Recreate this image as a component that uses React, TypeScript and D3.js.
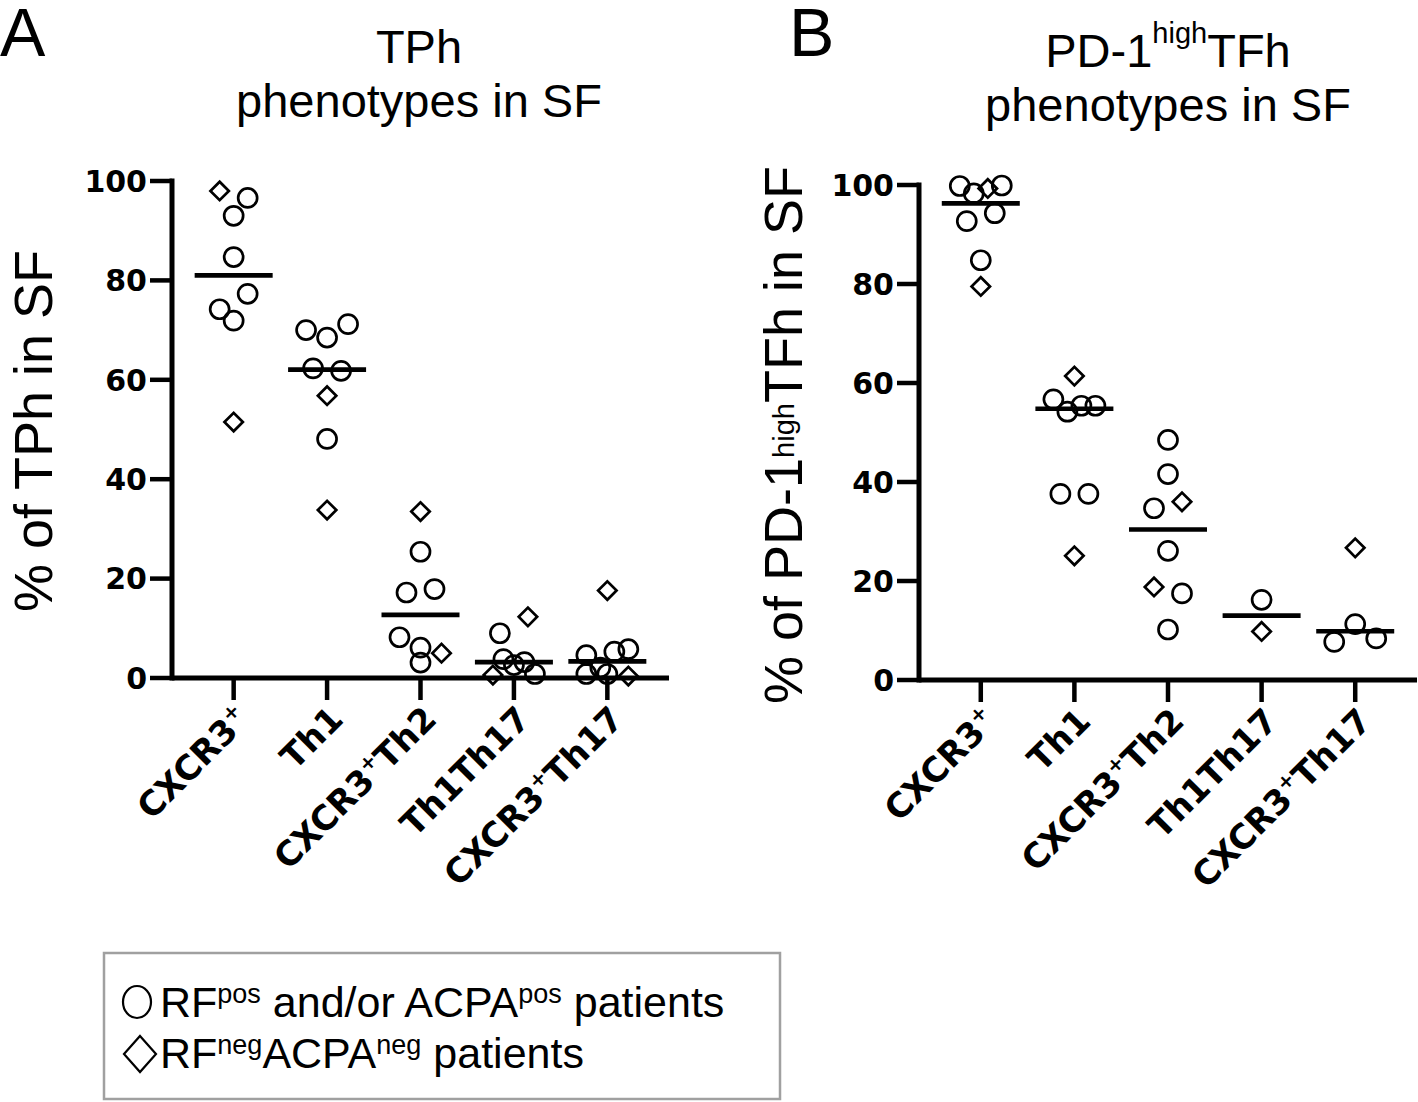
import React from "react";
import * as d3 from "d3";

// ---------- data ----------
const categories = ["CXCR3+", "Th1", "CXCR3+Th2", "Th1Th17", "CXCR3+Th17"];
const yTicks = [0, 20, 40, 60, 80, 100];

// Panel A: % of TPh in SF (one inner array per category)
const tphValues = [
  [98.0, 96.6, 93.0, 84.7, 74.2, 77.3, 71.9, 51.5],
  [70.0, 68.5, 71.2, 62.3, 61.8, 56.8, 48.1, 33.8],
  [33.5, 25.4, 17.2, 17.9, 8.2, 6.1, 5.0, 3.1],
  [9.0, 12.3, 0.6, 3.8, 2.6, 3.2, 0.8],
  [17.6, 4.6, 2.1, 5.3, 5.8, 0.8, 0.8, 0.4],
];
// "pos" = RFpos and/or ACPApos (circle), "neg" = RFnegACPAneg (diamond)
const tphKinds = [
  ["neg", "pos", "pos", "pos", "pos", "pos", "pos", "neg"],
  ["pos", "pos", "pos", "pos", "pos", "neg", "pos", "neg"],
  ["neg", "pos", "pos", "pos", "pos", "pos", "neg", "pos"],
  ["pos", "neg", "neg", "pos", "pos", "pos", "pos"],
  ["neg", "pos", "pos", "pos", "pos", "pos", "pos", "neg"],
];

// Panel B: % of PD-1high TFh in SF
const tfhValues = [
  [99.8, 98.3, 99.3, 99.9, 92.7, 94.3, 84.8, 79.5],
  [61.4, 56.7, 54.2, 55.4, 55.4, 37.6, 37.6, 25.1],
  [48.5, 41.6, 34.7, 36.0, 26.1, 18.8, 17.5, 10.2],
  [16.2, 9.8],
  [26.7, 7.7, 11.3, 8.4],
];
const tfhKinds = [
  ["pos", "pos", "neg", "pos", "pos", "pos", "pos", "neg"],
  ["neg", "pos", "pos", "pos", "pos", "pos", "pos", "neg"],
  ["pos", "pos", "pos", "neg", "pos", "neg", "pos", "pos"],
  ["pos", "neg"],
  ["neg", "pos", "pos", "pos"],
];

// ---------- styling ----------
const SANS = "'Liberation Sans', Arial, Helvetica, sans-serif";
const BOLD = "'DejaVu Sans', 'Liberation Sans', Arial, sans-serif";
const AXIS_W = 5;
const TICK_LEN = 22;
const MARK_R = 9.5;
const ROW_GAP = 21;

function swarmOffsets(ys: number[]): number[] {
  const order = ys.map((_, i) => i).sort((a, b) => ys[a] - ys[b]);
  const rows: number[][] = [];
  let cur: number[] = [];
  let top = -Infinity;
  order.forEach((i) => {
    if (cur.length === 0 || ys[i] - top >= ROW_GAP) {
      if (cur.length) rows.push(cur);
      cur = [i];
      top = ys[i];
    } else cur.push(i);
  });
  if (cur.length) rows.push(cur);
  const off = ys.map(() => 0);
  rows.forEach((row) => {
    const r = [...row].sort((a, b) => a - b);
    const n = r.length;
    if (n === 1) return;
    const w = n === 2 ? 14 : 21;
    r.forEach((idx, k) => {
      off[idx] = -w + (2 * w * k) / (n - 1);
    });
  });
  return off;
}

function XLabel({ label }: { label: string }) {
  const parts = label.split("+");
  if (parts.length === 1) return <>{label}</>;
  return (
    <>
      {parts[0]}
      <tspan fontSize={20} dy={-14}>+</tspan>
      {parts[1] ? <tspan dy={14}>{parts[1]}</tspan> : null}
    </>
  );
}

const diamond = d3.symbol().type(d3.symbolSquare).size(170)();

function Panel(props: {
  x0: number;
  x1: number;
  yTop: number;
  yBottom: number;
  values: number[][];
  kinds: string[][];
}) {
  const { x0, x1, yTop, yBottom, values, kinds } = props;
  const x = d3.scalePoint<string>().domain(categories).range([x0, x1]).padding(0.66);
  const y = d3.scaleLinear().domain([0, 100]).range([yBottom, yTop]);

  return (
    <g>
      {/* points */}
      {categories.map((c, ci) => {
        const vals = values[ci];
        const ys = vals.map((v) => y(v));
        const offs = swarmOffsets(ys);
        const cx = x(c) as number;
        const med = d3.median(vals) as number;
        return (
          <g key={c}>
            {vals.map((v, i) =>
              kinds[ci][i] === "pos" ? (
                <circle
                  key={i}
                  cx={cx + offs[i]}
                  cy={y(v)}
                  r={MARK_R}
                  fill="none"
                  stroke="#000"
                  strokeWidth={2.7}
                />
              ) : (
                <path
                  key={i}
                  d={diamond as string}
                  transform={`translate(${cx + offs[i]},${y(v)}) rotate(45)`}
                  fill="none"
                  stroke="#000"
                  strokeWidth={2.7}
                />
              )
            )}
            <line
              x1={cx - 39}
              x2={cx + 39}
              y1={y(med)}
              y2={y(med)}
              stroke="#000"
              strokeWidth={4.7}
            />
          </g>
        );
      })}
      {/* y axis */}
      <line x1={x0} x2={x0} y1={y(100) - AXIS_W / 2} y2={y(0) + AXIS_W / 2} stroke="#000" strokeWidth={AXIS_W} />
      {yTicks.map((t) => (
        <g key={t}>
          <line x1={x0 - TICK_LEN} x2={x0} y1={y(t)} y2={y(t)} stroke="#000" strokeWidth={AXIS_W - 0.5} />
          <text
            x={x0 - TICK_LEN - 3}
            y={y(t)}
            dy="0.36em"
            textAnchor="end"
            fontFamily={BOLD}
            fontWeight="bold"
            fontSize={30}
          >
            {t}
          </text>
        </g>
      ))}
      {/* x axis */}
      <line x1={x0} x2={x1} y1={y(0)} y2={y(0)} stroke="#000" strokeWidth={AXIS_W} />
      {categories.map((c) => {
        const cx = x(c) as number;
        return (
          <g key={c}>
            <line x1={cx} x2={cx} y1={y(0)} y2={y(0) + TICK_LEN} stroke="#000" strokeWidth={AXIS_W - 0.5} />
            <text
              transform={`translate(${cx + 1},${y(0) + 26}) rotate(-45)`}
              y={24}
              textAnchor="end"
              fontFamily={BOLD}
              fontWeight="bold"
              fontSize={34}
            >
              <XLabel label={c} />
            </text>
          </g>
        );
      })}
    </g>
  );
}

export default function App() {
  return (
    <svg
      width={1418}
      height={1102}
      style={{ position: "absolute", left: 0, top: 0, background: "#fff" }}
      fontFamily={SANS}
    >
      <rect x={0} y={0} width={1418} height={1102} fill="#fff" />
      {/* panel letters */}
      <text x={0} y={56} fontSize={68}>A</text>
      <text x={789} y={56} fontSize={68}>B</text>

      {/* titles */}
      <text x={419} y={63} fontSize={47} textAnchor="middle">TPh</text>
      <text x={419} y={117} fontSize={47} textAnchor="middle">phenotypes in SF</text>
      <text x={1168} y={67} fontSize={47} textAnchor="middle">
        PD-1<tspan fontSize={29} dy={-24}>high</tspan>
        <tspan dy={24}>TFh</tspan>
      </text>
      <text x={1168} y={121} fontSize={47} textAnchor="middle">phenotypes in SF</text>

      {/* y axis titles */}
      <text transform="translate(52,431) rotate(-90)" textAnchor="middle" fontSize={54}>
        % of TPh in SF
      </text>
      <text transform="translate(802,435) rotate(-90)" textAnchor="middle" fontSize={54}>
        % of PD-1<tspan fontSize={29} dy={-8}>high</tspan>
        <tspan dy={8}>TFh in SF</tspan>
      </text>

      <Panel x0={172} x1={669} yTop={181} yBottom={678} values={tphValues} kinds={tphKinds} />
      <Panel x0={919} x1={1417} yTop={185} yBottom={680} values={tfhValues} kinds={tfhKinds} />

      {/* legend */}
      <rect x={104} y={953} width={676} height={146} fill="none" stroke="#a0a0a0" strokeWidth={2.5} />
      <ellipse cx={137} cy={1002} rx={14} ry={16} fill="none" stroke="#000" strokeWidth={2.2} />
      <path d="M140,1036 L156,1054 L140,1072 L124,1054 Z" fill="none" stroke="#000" strokeWidth={2.2} />
      <text x={160} y={1017} fontSize={43}>
        RF<tspan fontSize={27} dy={-14}>pos</tspan>
        <tspan dy={14}>{" and/or ACPA"}</tspan>
        <tspan fontSize={27} dy={-14}>pos</tspan>
        <tspan dy={14}>{" patients"}</tspan>
      </text>
      <text x={160} y={1068} fontSize={43}>
        RF<tspan fontSize={27} dy={-14}>neg</tspan>
        <tspan dy={14}>ACPA</tspan>
        <tspan fontSize={27} dy={-14}>neg</tspan>
        <tspan dy={14}>{" patients"}</tspan>
      </text>
    </svg>
  );
}
